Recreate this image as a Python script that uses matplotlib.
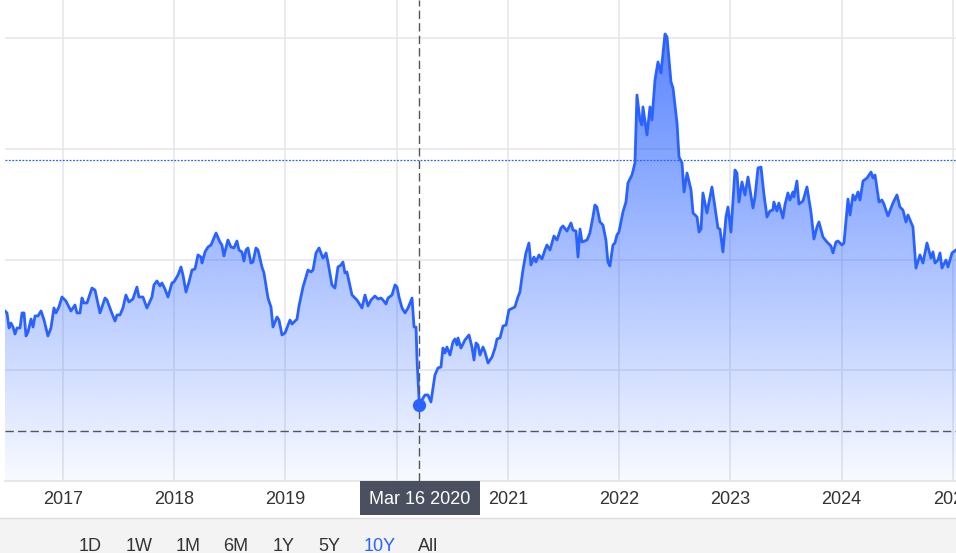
import numpy as np
import matplotlib
matplotlib.use("Agg")
import matplotlib.pyplot as plt
from matplotlib.patches import Rectangle, Polygon
from matplotlib.lines import Line2D
from matplotlib.colors import to_rgb
import matplotlib.transforms as mtransforms

plt.rcParams['font.family'] = ['Liberation Sans', 'DejaVu Sans']

# ---------------- data (decimal years, values) ----------------
dates = [
    2016.479, 2016.497, 2016.515, 2016.533, 2016.551, 2016.569, 2016.587, 2016.614, 2016.632, 2016.650,
    2016.668, 2016.686, 2016.713, 2016.731, 2016.749, 2016.776, 2016.803, 2016.830, 2016.865, 2016.892,
    2016.919, 2016.937, 2016.964, 2016.991, 2017.027, 2017.072, 2017.108, 2017.126, 2017.153, 2017.171,
    2017.189, 2017.216, 2017.261, 2017.288, 2017.333, 2017.378, 2017.396, 2017.432, 2017.468, 2017.486,
    2017.513, 2017.539, 2017.566, 2017.593, 2017.629, 2017.665, 2017.683, 2017.719, 2017.755, 2017.800,
    2017.818, 2017.845, 2017.872, 2017.890, 2017.917, 2017.944, 2017.980, 2017.998, 2018.034, 2018.061,
    2018.079, 2018.106, 2018.133, 2018.160, 2018.187, 2018.214, 2018.241, 2018.250, 2018.277, 2018.304,
    2018.331, 2018.376, 2018.411, 2018.429, 2018.447, 2018.483, 2018.510, 2018.537, 2018.564, 2018.582,
    2018.609, 2018.627, 2018.645, 2018.663, 2018.690, 2018.708, 2018.735, 2018.753, 2018.789, 2018.807,
    2018.843, 2018.870, 2018.888, 2018.924, 2018.942, 2018.969, 2018.996, 2019.041, 2019.059, 2019.104,
    2019.122, 2019.158, 2019.203, 2019.230, 2019.248, 2019.275, 2019.302, 2019.337, 2019.346, 2019.365,
    2019.382, 2019.418, 2019.445, 2019.472, 2019.499, 2019.517, 2019.535, 2019.553, 2019.598, 2019.643,
    2019.688, 2019.715, 2019.742, 2019.769, 2019.805, 2019.832, 2019.859, 2019.877, 2019.904, 2019.922,
    2019.958, 2019.985, 2020.003, 2020.021, 2020.048, 2020.075, 2020.102, 2020.138, 2020.156, 2020.174,
    2020.183, 2020.204, 2020.227, 2020.254, 2020.281, 2020.308, 2020.344, 2020.371, 2020.398, 2020.416,
    2020.434, 2020.452, 2020.479, 2020.506, 2020.524, 2020.542, 2020.551, 2020.578, 2020.614, 2020.650,
    2020.677, 2020.695, 2020.713, 2020.731, 2020.749, 2020.776, 2020.794, 2020.821, 2020.857, 2020.884,
    2020.902, 2020.929, 2020.956, 2020.983, 2021.009, 2021.045, 2021.063, 2021.090, 2021.108, 2021.135,
    2021.162, 2021.189, 2021.207, 2021.234, 2021.252, 2021.279, 2021.306, 2021.333, 2021.351, 2021.378,
    2021.414, 2021.441, 2021.477, 2021.495, 2021.531, 2021.567, 2021.585, 2021.612, 2021.630, 2021.648,
    2021.666, 2021.711, 2021.737, 2021.764, 2021.782, 2021.800, 2021.827, 2021.854, 2021.881, 2021.899,
    2021.917, 2021.944, 2021.962, 2021.980, 2021.998, 2022.034, 2022.061, 2022.079, 2022.115, 2022.142,
    2022.160, 2022.187, 2022.205, 2022.214, 2022.250, 2022.277, 2022.295, 2022.322, 2022.349, 2022.376,
    2022.412, 2022.430, 2022.466, 2022.484, 2022.520, 2022.538, 2022.565, 2022.583, 2022.610, 2022.646,
    2022.664, 2022.700, 2022.718, 2022.736, 2022.753, 2022.789, 2022.834, 2022.861, 2022.888, 2022.906,
    2022.933, 2022.960, 2022.978, 2023.005, 2023.041, 2023.059, 2023.077, 2023.104, 2023.131, 2023.158,
    2023.203, 2023.221, 2023.248, 2023.275, 2023.302, 2023.329, 2023.355, 2023.382, 2023.391, 2023.418,
    2023.436, 2023.472, 2023.490, 2023.517, 2023.535, 2023.562, 2023.571, 2023.598, 2023.616, 2023.652,
    2023.688, 2023.724, 2023.751, 2023.778, 2023.796, 2023.832, 2023.868, 2023.904, 2023.922, 2023.949,
    2023.967, 2024.003, 2024.021, 2024.057, 2024.075, 2024.102, 2024.120, 2024.147, 2024.165, 2024.192,
    2024.228, 2024.264, 2024.282, 2024.300, 2024.336, 2024.362, 2024.380, 2024.416, 2024.461, 2024.497,
    2024.524, 2024.551, 2024.578, 2024.596, 2024.641, 2024.668, 2024.704, 2024.731, 2024.767, 2024.803,
    2024.821, 2024.839, 2024.866, 2024.884, 2024.902, 2024.938, 2024.956, 2024.992, 2025.028,
]
values = [
    15.36, 15.18, 13.82, 14.27, 13.91, 13.28, 13.82, 13.82, 15.18, 15.18,
    13.10, 13.46, 14.63, 13.91, 14.91, 14.91, 15.36, 14.54, 13.10, 13.82,
    15.63, 15.18, 15.72, 16.62, 16.26, 15.36, 15.90, 15.18, 15.18, 16.53,
    16.08, 16.08, 17.43, 17.25, 15.18, 16.53, 16.35, 15.36, 14.45, 15.00,
    15.00, 15.63, 16.80, 16.17, 16.44, 17.52, 16.62, 16.62, 15.63, 16.62,
    17.71, 18.07, 17.62, 17.89, 17.34, 16.62, 17.89, 17.98, 18.61, 19.33,
    18.61, 17.07, 17.98, 19.06, 19.15, 20.42, 20.23, 19.69, 20.69, 21.14,
    21.32, 22.40, 21.59, 21.32, 20.33, 21.77, 21.14, 21.05, 21.68, 20.87,
    20.69, 19.87, 20.87, 21.05, 19.69, 19.78, 21.05, 20.87, 19.33, 18.79,
    16.53, 15.72, 13.91, 14.81, 14.54, 13.19, 13.37, 14.54, 14.18, 14.63,
    15.81, 17.52, 19.06, 18.88, 19.06, 20.60, 21.05, 20.14, 20.23, 20.60,
    19.78, 17.71, 17.43, 19.33, 19.51, 19.78, 18.79, 18.88, 16.80, 16.35,
    15.63, 16.80, 15.81, 16.35, 16.71, 16.44, 16.53, 16.35, 15.99, 16.53,
    16.80, 17.71, 17.52, 16.62, 15.63, 15.18, 15.63, 16.53, 13.91, 13.91,
    10.93, 6.87, 7.32, 7.77, 7.77, 7.14, 9.58, 10.21, 10.30, 12.01,
    11.56, 12.10, 11.38, 12.56, 12.83, 12.29, 12.92, 12.01, 12.74, 13.19,
    12.10, 10.93, 12.47, 12.29, 11.38, 12.10, 11.65, 10.66, 11.20, 12.01,
    12.83, 12.92, 14.00, 14.09, 15.45, 15.63, 15.72, 16.62, 17.07, 19.06,
    20.60, 21.50, 19.51, 20.23, 19.78, 20.42, 20.05, 20.87, 21.32, 20.87,
    22.13, 21.77, 22.85, 23.04, 22.58, 23.31, 22.67, 22.58, 20.23, 22.76,
    21.59, 21.77, 22.40, 23.85, 24.93, 24.75, 23.40, 23.13, 21.77, 19.78,
    19.42, 21.32, 21.50, 22.22, 22.49, 24.30, 25.20, 26.92, 27.64, 28.73,
    34.87, 32.61, 32.16, 33.79, 31.26, 33.79, 32.61, 36.22, 37.85, 36.86,
    40.38, 40.11, 36.04, 35.50, 32.34, 29.27, 28.73, 26.11, 27.82, 26.29,
    24.21, 23.85, 22.49, 22.76, 26.02, 24.21, 26.56, 24.75, 22.85, 22.76,
    20.69, 23.85, 24.75, 22.49, 28.09, 27.82, 25.20, 27.01, 25.84, 27.46,
    24.66, 25.66, 28.27, 28.36, 25.84, 23.85, 24.39, 24.48, 25.20, 24.39,
    25.11, 23.76, 24.93, 26.02, 25.38, 26.11, 25.66, 27.10, 25.02, 25.29,
    26.56, 24.30, 21.86, 22.94, 23.40, 22.04, 21.59, 21.23, 20.60, 21.59,
    21.68, 21.32, 21.50, 25.47, 24.03, 25.84, 25.38, 26.11, 25.38, 27.10,
    27.37, 27.91, 27.37, 27.64, 25.20, 25.38, 25.02, 23.94, 25.11, 25.84,
    24.75, 24.48, 23.40, 24.03, 22.94, 19.24, 20.42, 19.69, 21.50, 20.14,
    20.69, 19.69, 19.96, 20.60, 19.24, 19.96, 19.33, 20.60, 20.87,
]
year_ticks = [2017, 2018, 2019, 2020, 2021, 2022, 2023, 2024, 2025]
year_labels = [str(y) for y in year_ticks]
grid_levels = [10, 20, 30, 40]
ref_level = 29.0
crosshair_date = 2020.204
crosshair_level = 4.5
crosshair_label = "Mar 16 2020"
range_buttons = ["1D", "1W", "1M", "6M", "1Y", "5Y", "10Y", "All"]
active_button = "10Y"

# ---------------- layout ----------------
W, H = 956, 553
fig = plt.figure(figsize=(W / 100, H / 100), dpi=100)
fig.patch.set_facecolor("white")
ax = fig.add_axes([5 / W, 72 / H, 951 / W, 481 / H])
x0, x1 = 2016.479, 2025.028
y0, y1 = 0, 43.45

line_color = "#2962ff"
text_color = "#333333"

# gradient area fill
verts = [(dates[0], 0)] + list(zip(dates, values)) + [(dates[-1], 0)]
poly = Polygon(verts, closed=True, facecolor="none", edgecolor="none")
ax.add_patch(poly)
n = 256
lev = np.linspace(y0, y1, n)
alpha = np.clip(0.03 + 0.74 * lev / 40.0, 0, 1)
rgba = np.zeros((n, 1, 4))
rgba[..., :3] = to_rgb(line_color)
rgba[:, 0, 3] = alpha
im = ax.imshow(rgba, extent=[x0, x1, y0, y1], origin="lower", aspect="auto",
               zorder=1, interpolation="bilinear")
im.set_clip_path(poly)

ax.plot(dates, values, color=line_color, lw=2.0, zorder=3, solid_joinstyle="round")

ax.set_xlim(x0, x1)
ax.set_ylim(y0, y1)

# grid
ax.set_xticks(year_ticks)
ax.set_xticklabels(year_labels)
ax.set_yticks(grid_levels)
ax.set_yticklabels([])
ax.set_axisbelow(True)
ax.grid(True, color="#e6e7eb", lw=1.2)
ax.tick_params(axis="x", length=0, pad=7, labelsize=13, labelcolor=text_color)
ax.tick_params(axis="y", length=0, labelleft=False)
for s in ["top", "right", "left"]:
    ax.spines[s].set_visible(False)
ax.spines["bottom"].set_color("#e3e3e3")
ax.spines["bottom"].set_linewidth(1.2)

# the tick label lying under the crosshair tooltip is hidden by it
for tick_val, lbl in zip(year_ticks, ax.get_xticklabels()):
    if abs(tick_val - crosshair_date) < 0.5:
        lbl.set_visible(False)

# reference dotted line
ax.axhline(ref_level, color=line_color, lw=0.9, ls=(0, (1.5, 1.2)), zorder=2)

# crosshair
ax.axvline(crosshair_date, color="#555555", lw=1.0, ls=(0, (6, 3)), zorder=4)
ax.axhline(crosshair_level, color="#555555", lw=1.0, ls=(0, (6, 3)), zorder=4)
idx = int(np.argmin(np.abs(np.array(dates) - crosshair_date)))
ax.plot(dates[idx], values[idx], "o", ms=8.5, color=line_color, zorder=5)

# tooltip label under crosshair
trans = mtransforms.blended_transform_factory(ax.transData, ax.transAxes)
half_w = 60 / 111.25
box_h = 34 / 481
ax.add_patch(Rectangle((crosshair_date - half_w + 0.005, -box_h), 2 * half_w, box_h,
                       transform=trans, facecolor="#4b5060", edgecolor="none",
                       clip_on=False, zorder=10))
ax.text(crosshair_date, -23.5 / 481, crosshair_label, transform=trans, ha="center",
        va="baseline", fontsize=13, color="white", zorder=11, clip_on=False)

# bottom range bar
fig.patches.append(Rectangle((0, 0), 1, 35 / H, transform=fig.transFigure,
                             facecolor="#f3f3f3", edgecolor="none", zorder=0))
fig.lines.append(Line2D([0, 1], [35 / H, 35 / H], transform=fig.transFigure,
                        color="#e0e0e0", lw=1.0))
button_x = [90, 139, 188, 236, 284, 329, 380, 428]
for bx, lab in zip(button_x, range_buttons):
    fig.text(bx / W, 2 / H, lab, ha="center", va="baseline", fontsize=13,
             color=line_color if lab == active_button else text_color)

fig.savefig("out.png", dpi=100)
